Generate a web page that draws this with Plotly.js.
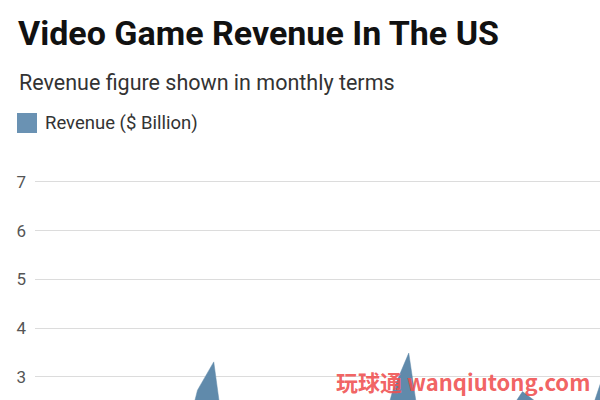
<!DOCTYPE html>
<html>
<head>
<meta charset="utf-8">
<script src="https://cdn.plot.ly/plotly-3.0.1.min.js"></script>
<style>
  html, body { margin: 0; padding: 0; background: #fff; }
  #chart { width: 600px; height: 400px; }
</style>
</head>
<body>
<div id="chart"></div>
<script>
// monthly revenue, $ billion (only the tops above ~2.5 are visible in the crop)
const months = [
  'Jan Y1', 'Feb Y1', 'Mar Y1', 'Apr Y1', 'May Y1', 'Jun Y1',
  'Jul Y1', 'Aug Y1', 'Sep Y1', 'Oct Y1', 'Nov Y1', 'Dec Y1',
  'Jan Y2', 'Feb Y2', 'Mar Y2', 'Apr Y2', 'May Y2', 'Jun Y2',
  'Jul Y2', 'Aug Y2', 'Sep Y2', 'Oct Y2', 'Nov Y2', 'Dec Y2',
  'Jan Y3', 'Feb Y3', 'Mar Y3', 'Apr Y3', 'May Y3', 'Jun Y3',
  'Jul Y3', 'Aug Y3', 'Sep Y3', 'Oct Y3', 'Nov Y3', 'Dec Y3'
];
const revenue = [
  0.95, 1.05, 1.30, 0.90, 0.85, 1.20, 0.90, 0.95, 1.35, 1.40, 2.73, 3.31,
  0.85, 1.00, 1.35, 0.95, 0.90, 1.30, 0.95, 1.00, 1.45, 1.50, 2.70, 3.49,
  1.25, 1.20, 1.60, 1.30, 1.20, 2.20, 2.70, 2.45, 1.90, 1.60, 2.07, 3.07
];
const yTicks = [3, 4, 5, 6, 7];

const titleText = 'Video Game Revenue In The US';
const subtitleText = 'Revenue figure shown in monthly terms';
const legendText = 'Revenue ($ Billion)';
const watermarkText = '玩球通 wanqiutong.com';

const areaColor = '#608aab';
const font = 'Roboto, "Noto Sans", Arial, sans-serif';

const trace = {
  x: months,
  y: revenue,
  type: 'scatter',
  mode: 'lines',
  fill: 'tozeroy',
  fillcolor: areaColor,
  line: {color: areaColor, width: 0.5},
  showlegend: false,
  hoverinfo: 'skip'
};

const layout = {
  width: 600,
  height: 400,
  margin: {l: 35, r: 0, t: 150, b: 0},
  paper_bgcolor: '#fff',
  plot_bgcolor: '#fff',
  showlegend: false,
  font: {family: font, color: '#333'},
  xaxis: {
    type: 'category',
    range: [0, 34.77],
    showgrid: false,
    zeroline: false,
    showline: false,
    showticklabels: false,
    ticks: ''
  },
  yaxis: {
    range: [2.528, 7.656],
    tickvals: yTicks,
    ticktext: yTicks.map(String),
    showgrid: true,
    gridcolor: '#dcdcdc',
    gridwidth: 1,
    zeroline: false,
    showline: false,
    ticks: '',
    tickfont: {family: font, size: 17, color: '#555'},
    ticklabelstandoff: 8
  },
  shapes: [
    // legend swatch
    {type: 'rect', xref: 'paper', yref: 'paper',
     x0: -0.0319, x1: 0.0035, y0: 1.068, y1: 1.148,
     fillcolor: '#6a92b3', line: {width: 0}}
  ],
  annotations: [
    {text: titleText, xref: 'paper', yref: 'paper', x: -0.034, y: 1.47,
     xanchor: 'left', yanchor: 'middle', showarrow: false,
     font: {family: font, size: 34, color: '#111', weight: 700}},
    {text: subtitleText, xref: 'paper', yref: 'paper', x: -0.032, y: 1.272,
     xanchor: 'left', yanchor: 'middle', showarrow: false,
     font: {family: font, size: 21.5, color: '#333'}},
    {text: legendText, xref: 'paper', yref: 'paper', x: 0.014, y: 1.108,
     xanchor: 'left', yanchor: 'middle', showarrow: false,
     font: {family: font, size: 18.5, color: '#333'}},
    {text: watermarkText, xref: 'paper', yref: 'paper', x: 0.758, y: 0.076,
     xanchor: 'center', yanchor: 'middle', showarrow: false,
     font: {family: '"Noto Sans CJK SC", Roboto, sans-serif', size: 22,
            color: 'rgba(240,80,80,0.9)', weight: 700}}
  ]
};

Plotly.newPlot('chart', [trace], layout, {staticPlot: true, displayModeBar: false});
</script>
</body>
</html>
